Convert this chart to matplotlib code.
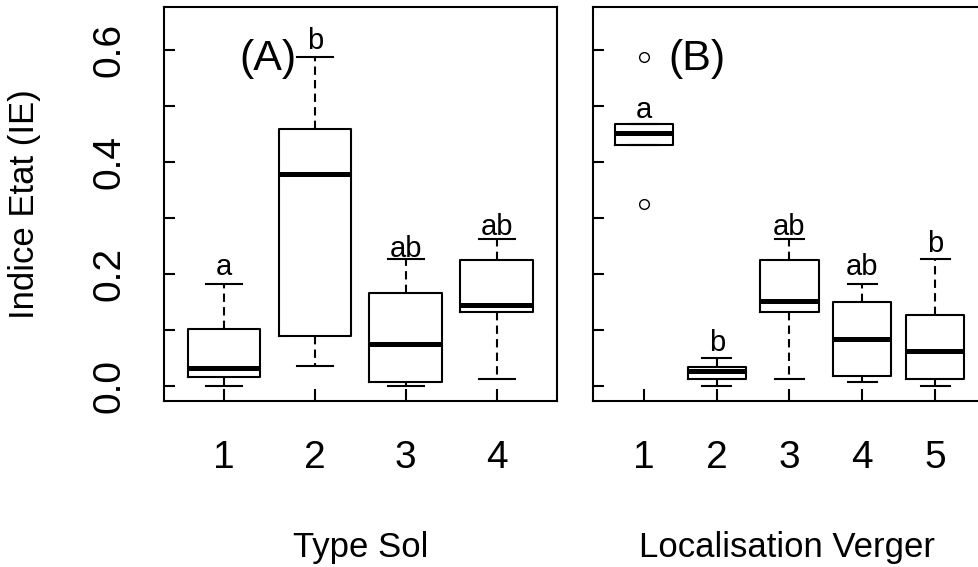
import matplotlib
matplotlib.use('Agg')
import matplotlib.pyplot as plt

plt.rcParams['font.family'] = ['Liberation Sans', 'DejaVu Sans']

# Panel A - Type Sol
solLabels = ['1', '2', '3', '4']
solQ1 = [0.017, 0.089, 0.007, 0.133]
solMed = [0.033, 0.379, 0.076, 0.145]
solQ3 = [0.103, 0.458, 0.166, 0.225]
solLow = [0.0, 0.036, 0.0, 0.014]
solHigh = [0.182, 0.587, 0.227, 0.262]
solFliers = [[], [], [], []]
solLetters = ['a', 'b', 'ab', 'ab']
solLetterY = [0.199, 0.601, 0.231, 0.270]

# Panel B - Localisation Verger
vergLabels = ['1', '2', '3', '4', '5']
vergQ1 = [0.431, 0.013, 0.132, 0.019, 0.014]
vergMed = [0.451, 0.027, 0.153, 0.084, 0.063]
vergQ3 = [0.468, 0.034, 0.225, 0.150, 0.127]
vergLow = [0.431, 0.0, 0.014, 0.007, 0.0]
vergHigh = [0.468, 0.050, 0.262, 0.182, 0.227]
vergFliers = [[0.587, 0.325], [], [], [], []]
vergLetters = ['a', 'b', 'ab', 'ab', 'b']
vergLetterY = [0.478, 0.063, 0.270, 0.199, 0.239]

yTicks = [0.0, 0.1, 0.2, 0.3, 0.4, 0.5, 0.6]
yTickLabels = ['0.0', '', '0.2', '', '0.4', '', '0.6']

W, H = 979, 567
fig = plt.figure(figsize=(W / 100, H / 100), dpi=100)

# axes placed in pixels
axA = fig.add_axes([164 / W, (H - 401) / H, 392.7 / W, 394 / H])
axB = fig.add_axes([593 / W, (H - 401) / H, 393 / W, 394 / H])


def draw_panel(ax, labels, q1, med, q3, low, high, fliers, letters, letterY):
    stats = []
    for i in range(len(labels)):
        stats.append({'q1': q1[i], 'med': med[i], 'q3': q3[i],
                      'whislo': low[i], 'whishi': high[i],
                      'fliers': fliers[i]})
    pos = list(range(1, len(labels) + 1))
    ax.bxp(stats, positions=pos, widths=0.8, capwidths=0.4,
           boxprops=dict(color='black', linewidth=1.5),
           medianprops=dict(color='black', linewidth=3.6,
                            solid_capstyle='butt'),
           whiskerprops=dict(color='black', linewidth=1.5,
                             linestyle=(0, (4, 2.5))),
           capprops=dict(color='black', linewidth=1.5),
           flierprops=dict(marker='o', markersize=7, markerfacecolor='none',
                           markeredgecolor='black', markeredgewidth=1.0))
    # group letters above the upper whiskers
    for p, ly, let in zip(pos, letterY, letters):
        ax.text(p, ly, let, ha='center', va='baseline', fontsize=21)
    ax.set_ylim(-0.026, 0.676)
    ax.set_xticks(pos)
    ax.set_xticklabels(labels)
    ax.set_yticks(yTicks)
    ax.tick_params(direction='in', width=1.5)
    ax.tick_params(axis='x', length=9, labelsize=28, pad=28)
    ax.tick_params(axis='y', length=8, labelsize=28, pad=26)
    for s in ax.spines.values():
        s.set_linewidth(1.5)


draw_panel(axA, solLabels, solQ1, solMed, solQ3, solLow, solHigh,
           solFliers, solLetters, solLetterY)
axA.set_xlim(0.34, 4.66)
axA.set_yticklabels(yTickLabels, rotation=90, va='center')
axA.text(1.48, 0.583, '(A)', ha='center', va='center', fontsize=31)

draw_panel(axB, vergLabels, vergQ1, vergMed, vergQ3, vergLow, vergHigh,
           vergFliers, vergLetters, vergLetterY)
axB.set_xlim(0.3, 5.7)
axB.set_yticklabels([])
axB.text(1.73, 0.583, '(B)', ha='center', va='center', fontsize=31)

# axis titles
fig.text(25 / W, 1 - 204 / H, 'Indice Etat (IE)', rotation=90,
         ha='center', va='center', fontsize=25)
fig.text(360.3 / W, (H - 556.7) / H, 'Type Sol', ha='center',
         va='baseline', fontsize=25)
fig.text(787.5 / W, (H - 556.7) / H, 'Localisation Verger', ha='center',
         va='baseline', fontsize=25)

fig.savefig('out.png', dpi=100)
